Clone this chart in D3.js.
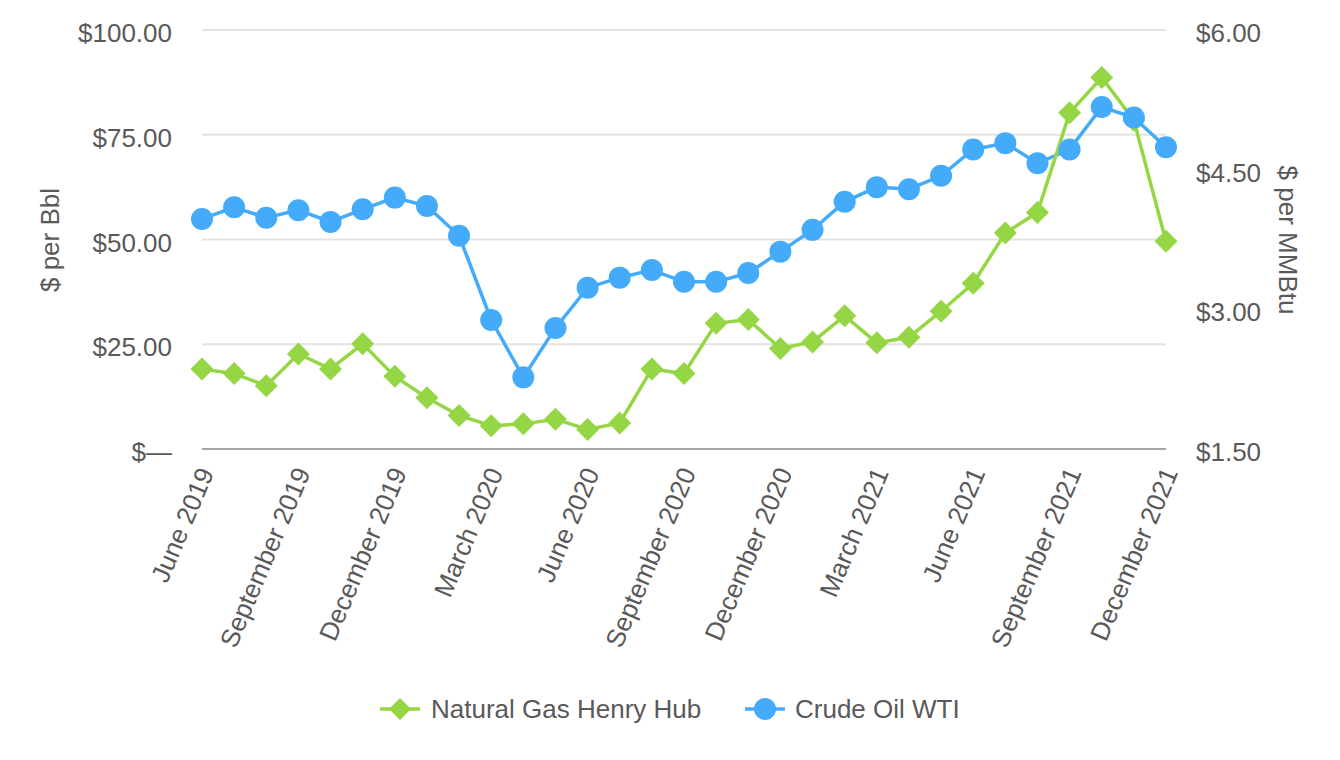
<!DOCTYPE html>
<html>
<head>
<meta charset="utf-8">
<script src="https://cdn.jsdelivr.net/npm/d3@7"></script>
<style>
  html, body { margin: 0; padding: 0; background: #fff; }
  svg { display: block; font-family: "Liberation Sans", Arial, Helvetica, sans-serif; }
</style>
</head>
<body>
<svg id="chart" width="1340" height="760"></svg>
<script>
const months = ["June 2019","July 2019","August 2019","September 2019","October 2019","November 2019","December 2019",
  "January 2020","February 2020","March 2020","April 2020","May 2020","June 2020","July 2020","August 2020","September 2020",
  "October 2020","November 2020","December 2020","January 2021","February 2021","March 2021","April 2021","May 2021",
  "June 2021","July 2021","August 2021","September 2021","October 2021","November 2021","December 2021"];
const gasHenryHub = [2.36,2.31,2.18,2.52,2.36,2.63,2.28,2.05,1.86,1.75,1.77,1.82,1.71,1.78,2.36,2.31,
  2.85,2.89,2.58,2.65,2.93,2.64,2.70,2.98,3.28,3.82,4.04,5.11,5.49,5.03,3.73];
const oilWTI = [54.9,57.7,55.2,57.0,54.2,57.2,60.0,58.0,50.9,30.8,17.1,28.9,38.5,40.9,42.7,39.9,
  39.9,42.0,47.1,52.3,59.0,62.5,62.0,65.2,71.5,73.0,68.2,71.5,81.6,79.1,72.0];
const leftTicks = [0,25,50,75,100];
const rightTicks = [1.5,3.0,4.5,6.0];
const tickMonths = ["June 2019","September 2019","December 2019","March 2020","June 2020","September 2020",
  "December 2020","March 2021","June 2021","September 2021","December 2021"];
const seriesNames = ["Natural Gas Henry Hub","Crude Oil WTI"];

const GREEN = "#95d645", BLUE = "#43abf9", TEXT = "#595959";
const FS = 26;
const svg = d3.select("#chart");
const x = d3.scalePoint().domain(months).range([202, 1166]);
const yL = d3.scaleLinear().domain([0,100]).range([449,30]);
const yR = d3.scaleLinear().domain([1.5,6]).range([449,30]);

// gridlines
svg.append("g").selectAll("line").data(leftTicks.filter(d => d > 0)).join("line")
  .attr("x1", 202).attr("x2", 1166).attr("y1", d => yL(d)).attr("y2", d => yL(d))
  .attr("stroke", "#e3e3e3").attr("stroke-width", 2);
svg.append("line").attr("x1", 202).attr("x2", 1166).attr("y1", yL(0)).attr("y2", yL(0))
  .attr("stroke", "#a6a6a6").attr("stroke-width", 2);

// left axis labels
const fmtL = d => d === 0 ? "$\u2014" : "$" + d3.format(",.2f")(d);
svg.append("g").selectAll("text").data(leftTicks).join("text")
  .attr("x", 172).attr("y", d => yL(d) + 3).attr("dy", "0.35em")
  .attr("text-anchor", "end").attr("font-size", FS).attr("fill", TEXT).text(fmtL);
// right axis labels
svg.append("g").selectAll("text").data(rightTicks).join("text")
  .attr("x", 1196).attr("y", d => yR(d) + 3).attr("dy", "0.35em")
  .attr("text-anchor", "start").attr("font-size", FS).attr("fill", TEXT).text(d => "$" + d3.format(".2f")(d));

// axis titles
svg.append("text").attr("transform", "translate(50,240) rotate(-90)").attr("text-anchor", "middle")
  .attr("dy", "0.35em").attr("font-size", FS).attr("fill", TEXT).text("$ per Bbl");
svg.append("text").attr("transform", "translate(1288,240) rotate(90)").attr("text-anchor", "middle")
  .attr("dy", "0.35em").attr("font-size", FS).attr("fill", TEXT).text("$ per MMBtu");

// x labels
svg.append("g").selectAll("text").data(tickMonths).join("text")
  .attr("transform", d => `translate(${x(d) + 4},${469}) rotate(-67)`)
  .attr("text-anchor", "end").attr("dy", "0.35em").attr("font-size", FS).attr("fill", TEXT).text(d => d);

// lines
const lineL = d3.line().x((d, i) => x(months[i])).y(d => yL(d));
const lineR = d3.line().x((d, i) => x(months[i])).y(d => yR(d));
svg.append("path").datum(oilWTI).attr("d", lineL).attr("fill", "none").attr("stroke", BLUE).attr("stroke-width", 3.5);
svg.append("path").datum(gasHenryHub).attr("d", lineR).attr("fill", "none").attr("stroke", GREEN).attr("stroke-width", 3.5);

// markers
const diamond = s => `M0,${-s}L${s},0L0,${s}L${-s},0Z`;
svg.append("g").selectAll("path").data(gasHenryHub).join("path")
  .attr("transform", (d, i) => `translate(${x(months[i])},${yR(d)})`)
  .attr("d", diamond(11.5)).attr("fill", GREEN);
svg.append("g").selectAll("circle").data(oilWTI).join("circle")
  .attr("cx", (d, i) => x(months[i])).attr("cy", d => yL(d)).attr("r", 11).attr("fill", BLUE);

// legend
const lg = svg.append("g");
const ly = 709;
lg.append("line").attr("x1", 380).attr("x2", 420).attr("y1", ly).attr("y2", ly).attr("stroke", GREEN).attr("stroke-width", 3.5);
lg.append("path").attr("transform", `translate(400,${ly})`).attr("d", diamond(11)).attr("fill", GREEN);
lg.append("text").attr("x", 431).attr("y", ly).attr("dy", "0.35em").attr("font-size", FS).attr("fill", TEXT).text(seriesNames[0]);
lg.append("line").attr("x1", 745).attr("x2", 785).attr("y1", ly).attr("y2", ly).attr("stroke", BLUE).attr("stroke-width", 3.5);
lg.append("circle").attr("cx", 765).attr("cy", ly).attr("r", 11).attr("fill", BLUE);
lg.append("text").attr("x", 795).attr("y", ly).attr("dy", "0.35em").attr("font-size", FS).attr("fill", TEXT).text(seriesNames[1]);
</script>
</body>
</html>
